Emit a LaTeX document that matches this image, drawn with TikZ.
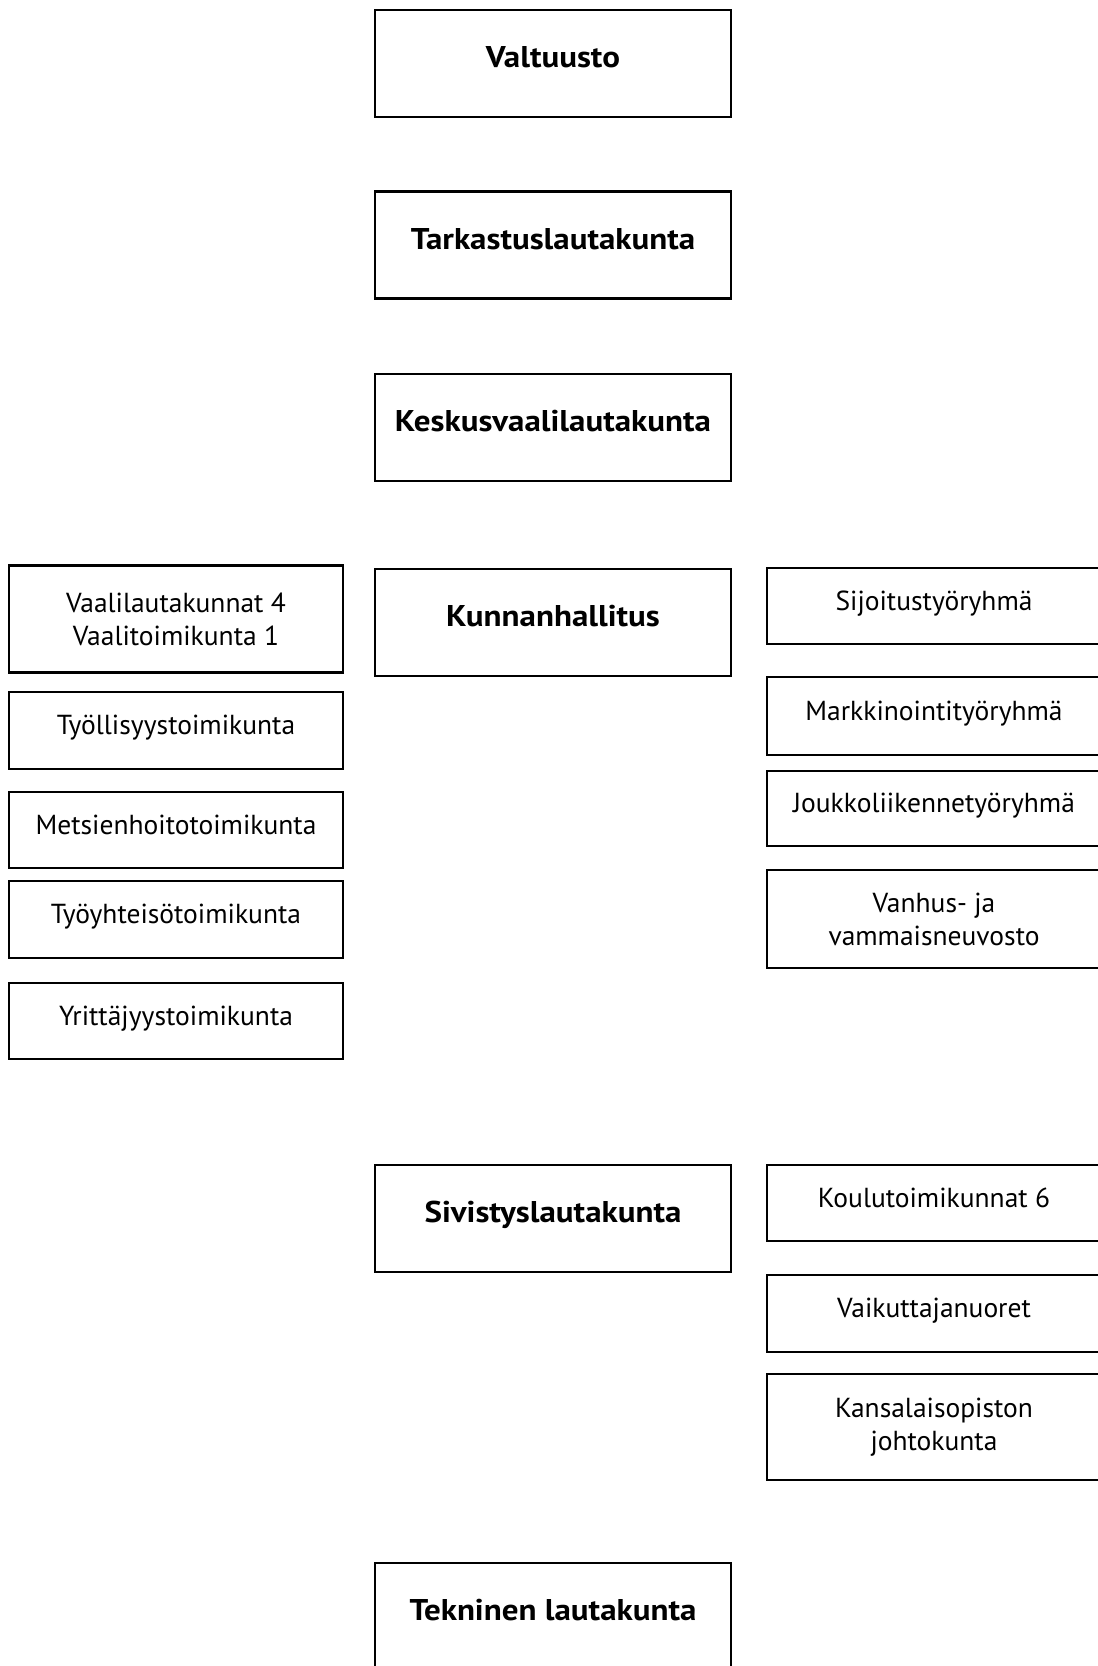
\documentclass[tikz,border=0pt]{standalone}
\usepackage{fontspec}
\setmainfont{PT Sans}[BoldFeatures={FakeStretch=1.1}]

\begin{document}
\begin{tikzpicture}[x=1pt, y=1pt,
        box/.style={draw, line width=2.2pt, inner sep=0pt, align=center,
            font=\fontsize{27.5}{33}\selectfont, text height=20pt, text depth=12pt},
        unit/.style={box, minimum width=356pt, minimum height=107pt, font=\fontsize{30}{33}\selectfont\bfseries},
        sub/.style={box, minimum width=334pt},
        twoline/.style={text height={}, text depth={}}]
    \useasboundingbox (0,0) rectangle (1098,-1666);

    % middle column
    \node[unit] (valt) at (553, -63.5) {Valtuusto};
    \node[unit] (tark) at (553, -245) {Tarkastuslautakunta};
    \node[unit] (kesk) at (553, -427.5) {Keskusvaalilautakunta};
    \node[unit] (khal) at (553, -622.5) {Kunnanhallitus};
    \node[unit] (sivi) at (553, -1218.5) {Sivistyslautakunta};
    \node[unit] (tekn) at (553, -1616.5) {Tekninen lautakunta};

    % left column
    \node[sub, twoline, minimum height=107pt] (vaal) at (176, -619) {Vaalilautakunnat 4\\Vaalitoimikunta 1};
    \node[sub, minimum height=77pt] (tyol) at (176, -730.5) {Työllisyystoimikunta};
    \node[sub, minimum height=76pt] (mets) at (176, -830) {Metsienhoitotoimikunta};
    \node[sub, minimum height=77pt] (tyoy) at (176, -919.5) {Työyhteisötoimikunta};
    \node[sub, minimum height=76pt] (yrit) at (176, -1021) {Yrittäjyystoimikunta};

    % right column
    \node[sub, minimum height=76pt] (sijo) at (934, -606) {Sijoitustyöryhmä};
    \node[sub, minimum height=78pt] (mark) at (934, -716) {Markkinointityöryhmä};
    \node[sub, minimum height=75pt] (jouk) at (934, -808.5) {Joukkoliikennetyöryhmä};
    \node[sub, twoline, minimum height=98pt] (vanh) at (934, -919) {Vanhus- ja\\vammaisneuvosto};
    \node[sub, minimum height=76pt] (koul) at (934, -1203) {Koulutoimikunnat 6};
    \node[sub, minimum height=77pt] (vaik) at (934, -1313.5) {Vaikuttajanuoret};
    \node[sub, twoline, minimum height=106pt] (kans) at (934, -1427) {Kansalaisopiston\\johtokunta};
\end{tikzpicture}
\end{document}
